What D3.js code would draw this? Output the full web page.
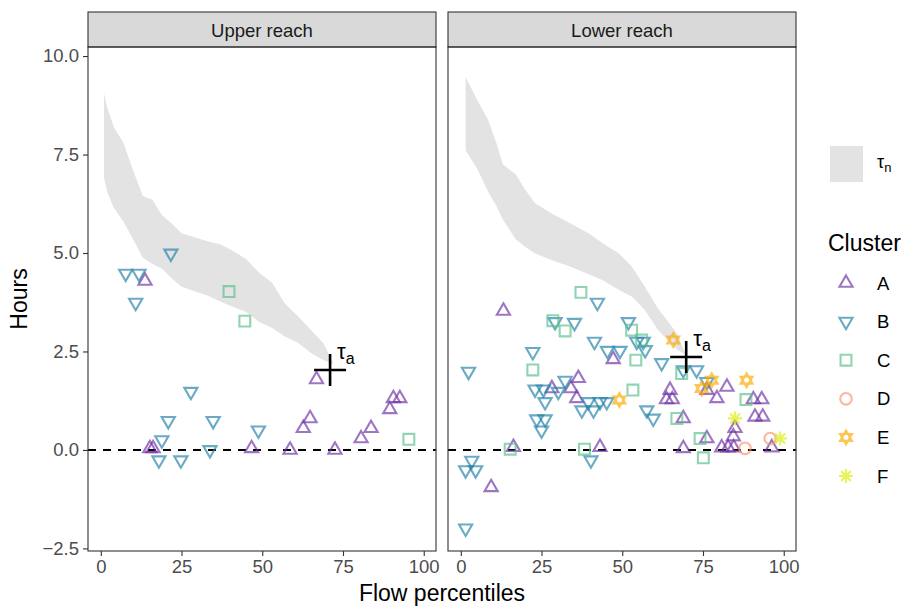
<!DOCTYPE html>
<html>
<head>
<meta charset="utf-8">
<script src="https://cdn.jsdelivr.net/npm/d3@7"></script>
<style>
  body { margin: 0; background: #fff; }
  text { font-family: "Liberation Sans", Arial, sans-serif; }
</style>
</head>
<body>
<script>
// facets, clusters and ticks
var reaches = ["Upper reach", "Lower reach"];
var clusters = ["A", "B", "C", "D", "E", "F"];
var xTicks = [0, 25, 50, 75, 100];
var yTicks = [-2.5, 0, 2.5, 5, 7.5, 10];

// tau_n band, upper reach
var upBandX  = [1, 2, 4, 7, 10, 13, 16, 19, 22, 25, 29, 33, 37, 41, 45, 49, 53, 57, 61, 65, 69, 72];
var upBandLo = [6.9, 6.55, 6.15, 5.8, 5.35, 4.88, 4.72, 4.6, 4.35, 4.14, 4.03, 3.92, 3.77, 3.63, 3.5, 3.25, 3.1, 2.88, 2.72, 2.47, 2.28, 2.18];
var upBandHi = [9.05, 8.7, 8.2, 7.8, 7.1, 6.45, 6.35, 5.95, 5.75, 5.5, 5.4, 5.3, 5.22, 5.05, 4.85, 4.5, 4.25, 3.72, 3.4, 3.05, 2.7, 2.2];

// tau_n band, lower reach
var lowBandX  = [1.5, 5, 8.5, 11, 13, 17, 20, 23, 28, 34, 40, 44, 49, 53, 57, 61, 64, 67, 69.5];
var lowBandLo = [7.61, 7.15, 6.55, 6.2, 5.85, 5.35, 5.15, 4.99, 4.82, 4.65, 4.45, 4.31, 4.06, 3.89, 3.55, 3.05, 2.8, 2.55, 2.42];
var lowBandHi = [9.47, 8.9, 8.37, 7.8, 7.25, 7.0, 6.6, 6.26, 6.01, 5.75, 5.48, 5.24, 4.99, 4.65, 4.14, 3.6, 3.28, 2.95, 2.45];

// tau_a
var upTau = [71.0, 2.03];
var lowTau = [69.8, 2.36];

// points [flow percentile, hours]
var upA = [[13.7,4.29],[66.8,1.79],[64.8,0.8],[62.7,0.55],[15.2,0.04],[16.2,0.04],[46.7,0.04],[58.6,0],[72.5,0],[80.6,0.29],[83.7,0.55],[89.5,1.03],[90.6,1.31],[92.6,1.31]];
var upB = [[21.7,4.99],[7.7,4.48],[11.8,4.48],[10.8,3.74],[27.9,1.48],[20.9,0.74],[34.8,0.74],[48.8,0.5],[18.9,0.25],[33.8,0],[18.0,-0.26],[24.8,-0.26]];
var upC = [[39.7,4.02],[44.6,3.27],[95.4,0.27]];
var upD = [];
var upE = [];
var upF = [];

var lowA = [[13.2,3.53],[9.4,-0.95],[16.3,0.07],[43.1,0.07],[47.2,2.3],[36.4,1.82],[28.2,1.56],[34.1,1.56],[35.9,1.31],[64.8,1.52],[63.7,1.28],[65.5,1.28],[76.2,1.52],[82.4,1.6],[79.3,1.31],[90.6,1.28],[93.2,1.28],[91.1,0.84],[93.5,0.84],[68.9,0.8],[84.9,0.55],[84.4,0.34],[76.2,0.29],[68.9,0.04],[80.8,0.06],[82.8,0.06],[84.5,0.06],[96.3,0.06]];
var lowB = [[3.4,-0.27],[1.5,-0.51],[4.6,-0.51],[1.5,-1.99],[40.3,-0.26],[2.4,1.99],[42.3,3.74],[29.2,3.25],[35.2,3.23],[51.9,3.25],[54.5,2.75],[56.5,2.75],[57.1,2.54],[41.4,2.75],[45.4,2.52],[49.3,2.52],[22.3,2.49],[32.3,1.76],[23.0,1.54],[25.6,1.54],[30.2,1.48],[26.1,1.22],[37.5,1.01],[39.5,1.22],[41.1,1.01],[43.1,1.22],[45.2,1.22],[23.5,0.78],[26.1,0.78],[25.0,0.5],[57.6,1.01],[59.6,0.8],[62.2,2.21],[68.9,2.03],[73.0,2.03],[76.2,1.73]];
var lowC = [[15.3,0.02],[38.3,0.02],[37.2,4.0],[28.5,3.28],[32.3,3.02],[52.9,3.04],[56.0,2.79],[54.2,2.28],[22.3,2.03],[53.3,1.52],[68.4,1.94],[88.3,1.28],[66.9,0.8],[74.1,0.29],[75.1,-0.2]];
var lowD = [[88.0,0.04],[95.8,0.29]];
var lowE = [[49.1,1.27],[65.8,2.79],[77.7,1.77],[74.6,1.56],[88.5,1.77]];
var lowF = [[84.9,0.8],[98.9,0.29]];

var colors = ["#7034a5", "#2482a8", "#5cc08b", "#f6956d", "#fcab00", "#ddee0c"];

var w = 904, h = 606;
var panelTop = 47, panelBottom = 551, panelW = 348;
var panelLefts = [88, 448];

var svg = d3.select("body").append("svg")
  .attr("width", w)
  .attr("height", h);

var yScale = d3.scaleLinear().domain([-2.566, 10.23]).range([panelBottom, panelTop]);

var color = d3.scaleOrdinal().domain(clusters).range(colors);

// symbol paths
function shapePath(c) {
  if (c == "A") return d3.symbol(d3.symbolTriangle, 75)();
  if (c == "B") return d3.symbol(d3.symbolTriangle, 75)();
  if (c == "C") return d3.symbol(d3.symbolSquare, 118)();
  if (c == "D") return d3.symbol(d3.symbolCircle, 105)();
  if (c == "E") {
    var t = d3.symbol(d3.symbolTriangle, 62)();
    return t + " " + t.replace(/(-?\d*\.?\d+),(-?\d*\.?\d+)/g, function(m, a, b) {
      return (+a) + "," + (-b);
    });
  }
  // F: asterisk with 8 arms
  var r = 7, p = "";
  for (var k = 0; k < 4; k++) {
    var a = k * Math.PI / 4;
    p += "M" + (-r * Math.cos(a)) + "," + (-r * Math.sin(a)) + "L" + (r * Math.cos(a)) + "," + (r * Math.sin(a));
  }
  return p;
}

function drawPoints(g, pts, c, xScale) {
  g.selectAll(null)
    .data(pts)
    .enter()
    .append("path")
    .attr("d", shapePath(c))
    .attr("transform", function(d) {
      return "translate(" + xScale(d[0]) + "," + yScale(d[1]) + ")" + (c == "B" ? " rotate(180)" : "");
    })
    .attr("fill", "none")
    .attr("stroke", color(c))
    .attr("stroke-opacity", 0.68)
    .attr("stroke-width", 2.1);
}

var panels = [
  { bandX: upBandX, lo: upBandLo, hi: upBandHi, tau: upTau, pts: [upA, upB, upC, upD, upE, upF] },
  { bandX: lowBandX, lo: lowBandLo, hi: lowBandHi, tau: lowTau, pts: [lowA, lowB, lowC, lowD, lowE, lowF] }
];

panels.forEach(function(p, i) {
  var left = panelLefts[i];
  var xScale = d3.scaleLinear().domain([-3.96, 103.8]).range([left, left + panelW]);

  var g = svg.append("g");

  // strip
  g.append("rect")
    .attr("x", left).attr("y", 12)
    .attr("width", panelW).attr("height", panelTop - 12)
    .attr("fill", "#d9d9d9")
    .attr("stroke", "#333333")
    .attr("stroke-width", 1.1);
  g.append("text")
    .attr("x", left + panelW / 2).attr("y", 37)
    .attr("text-anchor", "middle")
    .attr("font-size", "18.5px")
    .attr("fill", "#1a1a1a")
    .text(reaches[i]);

  // band
  var band = p.bandX.map(function(v, j) { return { x: v, lo: p.lo[j], hi: p.hi[j] }; });
  g.append("path")
    .datum(band)
    .attr("d", d3.area()
      .x(function(d) { return xScale(d.x); })
      .y0(function(d) { return yScale(d.lo); })
      .y1(function(d) { return yScale(d.hi); }))
    .attr("fill", "#e3e3e3");

  // zero line
  g.append("line")
    .attr("x1", left).attr("x2", left + panelW)
    .attr("y1", yScale(0)).attr("y2", yScale(0))
    .attr("stroke", "#000")
    .attr("stroke-width", 2)
    .attr("stroke-dasharray", "8,7");

  clusters.forEach(function(c, k) {
    drawPoints(g, p.pts[k], c, xScale);
  });

  // tau_a cross
  var cx = xScale(p.tau[0]), cy = yScale(p.tau[1]);
  g.append("path")
    .attr("d", "M" + (cx - 16) + "," + cy + "H" + (cx + 16) + "M" + cx + "," + (cy - 16) + "V" + (cy + 16))
    .attr("stroke", "#000")
    .attr("stroke-width", 2.6);
  var lab = g.append("text")
    .attr("x", cx + 7).attr("y", cy - 11)
    .attr("font-size", "22px")
    .attr("fill", "#000");
  lab.append("tspan").text("τ");
  lab.append("tspan").attr("font-size", "16px").attr("dy", 5).text("a");

  // border
  g.append("rect")
    .attr("x", left).attr("y", panelTop)
    .attr("width", panelW).attr("height", panelBottom - panelTop)
    .attr("fill", "none")
    .attr("stroke", "#333333")
    .attr("stroke-width", 1.1);

  // x axis
  var xAxis = g.append("g")
    .attr("transform", "translate(0," + panelBottom + ")")
    .call(d3.axisBottom(xScale).tickValues(xTicks).tickSize(5).tickPadding(4));
  xAxis.select(".domain").remove();
  xAxis.selectAll("line").attr("stroke", "#333333").attr("stroke-width", 1.1);
  xAxis.selectAll("text")
    .attr("font-size", "18.5px")
    .attr("fill", "#4d4d4d")
    .attr("font-family", "Liberation Sans, Arial, sans-serif");

  if (i == 0) {
    var yAxis = g.append("g")
      .attr("transform", "translate(" + left + ",0)")
      .call(d3.axisLeft(yScale).tickValues(yTicks).tickFormat(d3.format(".1f")).tickSize(5).tickPadding(4));
    yAxis.select(".domain").remove();
    yAxis.selectAll("line").attr("stroke", "#333333").attr("stroke-width", 1.1);
    yAxis.selectAll("text")
      .attr("font-size", "18.5px")
      .attr("fill", "#4d4d4d")
      .attr("font-family", "Liberation Sans, Arial, sans-serif")
      .text(function(d) { return d3.format(".1f")(d).replace("-", "\u2212"); });
  }
});

// axis titles
svg.append("text")
  .attr("x", (panelLefts[0] + panelLefts[1] + panelW) / 2)
  .attr("y", 601)
  .attr("text-anchor", "middle")
  .attr("font-size", "23px")
  .text("Flow percentiles");

svg.append("text")
  .attr("transform", "translate(27," + (panelTop + panelBottom) / 2 + ") rotate(-90)")
  .attr("text-anchor", "middle")
  .attr("font-size", "23px")
  .text("Hours");

// legend
var leg = svg.append("g");
leg.append("rect")
  .attr("x", 830).attr("y", 146)
  .attr("width", 33).attr("height", 36)
  .attr("fill", "#e3e3e3");
var tn = leg.append("text")
  .attr("x", 877).attr("y", 168)
  .attr("font-size", "18px");
tn.append("tspan").text("τ");
tn.append("tspan").attr("font-size", "13px").attr("dy", 4).text("n");

leg.append("text")
  .attr("x", 828).attr("y", 251)
  .attr("font-size", "23px")
  .text("Cluster");

clusters.forEach(function(c, k) {
  var yy = 283 + k * 38.6;
  leg.append("path")
    .attr("d", shapePath(c))
    .attr("transform", "translate(846," + yy + ")" + (c == "B" ? " rotate(180)" : ""))
    .attr("fill", "none")
    .attr("stroke", color(c))
    .attr("stroke-opacity", 0.68)
    .attr("stroke-width", 2.1);
  leg.append("text")
    .attr("x", 877).attr("y", yy + 6.5)
    .attr("font-size", "18.5px")
    .text(c);
});
</script>
</body>
</html>
